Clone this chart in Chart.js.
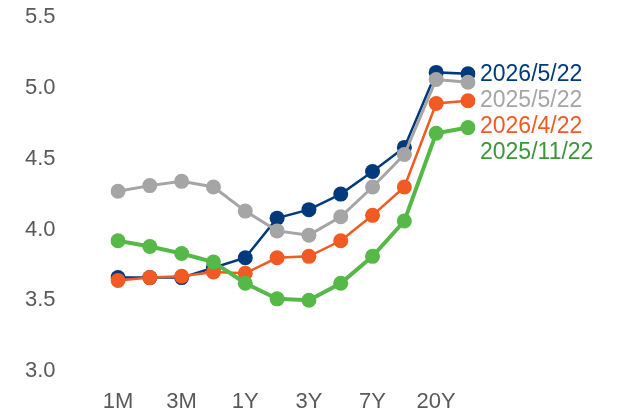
<!DOCTYPE html>
<html>
<head>
<meta charset="utf-8">
<script src="https://cdn.jsdelivr.net/npm/chart.js@4"></script>
<style>
  html, body { margin: 0; padding: 0; background: #fff; overflow: hidden; }
  canvas { display: block; }
</style>
</head>
<body>
<canvas id="curve" width="629" height="409"></canvas>
<script>
const tenors = ['1M', '2M', '3M', '6M', '1Y', '2Y', '3Y', '5Y', '7Y', '10Y', '20Y', '30Y'];
const yTicks = [3.0, 3.5, 4.0, 4.5, 5.0, 5.5];

const may26 = [3.66, 3.66, 3.66, 3.73, 3.80, 4.08, 4.14, 4.25, 4.41, 4.58, 5.11, 5.10];
const may25 = [4.27, 4.31, 4.34, 4.30, 4.13, 3.99, 3.96, 4.09, 4.30, 4.53, 5.06, 5.04];
const apr26 = [3.64, 3.66, 3.67, 3.70, 3.69, 3.80, 3.81, 3.92, 4.10, 4.30, 4.89, 4.91];
const nov25 = [3.92, 3.88, 3.83, 3.77, 3.62, 3.51, 3.50, 3.62, 3.81, 4.06, 4.68, 4.72];

const names = ['2026/5/22', '2025/5/22', '2026/4/22', '2025/11/22'];
const lineColors = ['#003A7D', '#A5A5A5', '#F15A22', '#55B847'];
const textColors = ['#003A7D', '#A5A5A5', '#F15A22', '#3A963A'];

const font = 'Liberation Sans, Arial, sans-serif';

function series(i, data, width, order) {
    return {
        label: names[i],
        data: data,
        borderColor: lineColors[i],
        backgroundColor: lineColors[i],
        borderWidth: width,
        pointRadius: 7.5,
        pointHoverRadius: 7.5,
        pointBorderWidth: 0,
        tension: 0,
        order: order
    };
}

// series names written to the right of the curves, stacked from the top one
const endLabels = {
    id: 'endLabels',
    afterDatasetsDraw(chart) {
        const ctx = chart.ctx;
        const first = chart.getDatasetMeta(0).data;
        const y0 = first[first.length - 1].y + 1;
        ctx.save();
        ctx.font = '23px ' + font;
        ctx.textAlign = 'left';
        ctx.textBaseline = 'middle';
        names.forEach((n, i) => {
            ctx.fillStyle = textColors[i];
            ctx.fillText(n, chart.chartArea.right + 12, y0 + i * 26);
        });
        ctx.restore();
    }
};

new Chart(document.getElementById('curve'), {
    type: 'line',
    data: {
        labels: tenors,
        datasets: [
            series(0, may26, 2.5, 4),
            series(1, may25, 3, 3),
            series(2, apr26, 2.5, 2),
            series(3, nov25, 4, 1)
        ]
    },
    options: {
        responsive: false,
        animation: false,
        layout: { padding: { left: 25, right: 161, top: 0, bottom: 0 } },
        plugins: {
            legend: { display: false },
            tooltip: { enabled: false }
        },
        scales: {
            x: {
                offset: false,
                grid: { display: false, drawTicks: false },
                border: { display: false },
                afterFit: s => { s.height = 38; },
                ticks: {
                    autoSkip: false,
                    maxRotation: 0,
                    padding: 18,
                    color: '#595959',
                    font: { family: font, size: 22 },
                    callback: (v, i) => (i % 2 === 0 ? tenors[i] : '')
                }
            },
            y: {
                min: 3.0,
                max: 5.5,
                grid: { display: false, drawTicks: false },
                border: { display: false },
                afterFit: s => { s.width = 93; },
                afterBuildTicks: s => { s.ticks = yTicks.map(v => ({ value: v })); },
                ticks: {
                    padding: 4,
                    crossAlign: 'far',
                    color: '#595959',
                    font: { family: font, size: 22 },
                    callback: v => v.toFixed(1)
                }
            }
        }
    },
    plugins: [endLabels]
});
</script>
</body>
</html>
